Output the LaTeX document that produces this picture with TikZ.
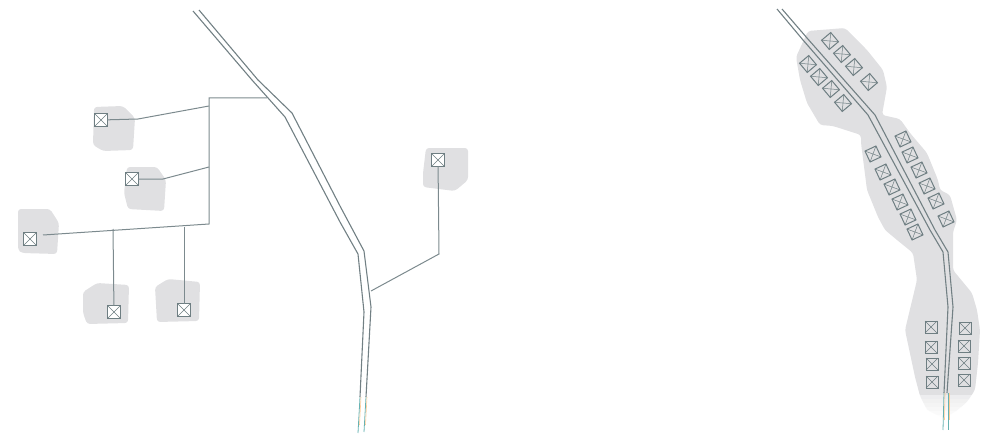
\documentclass[tikz,border=0pt]{standalone}
\usetikzlibrary{calc}
\definecolor{blobc}{HTML}{E0E0E2}
\definecolor{linec}{HTML}{7C8A8E}
\definecolor{boxc}{HTML}{6E7E82}
\definecolor{roadc}{HTML}{728084}
\tikzset{
  blob/.style={fill=blobc,draw=none,rounded corners=3pt},
  wire/.style={draw=linec,line width=1pt},
  road/.style={draw=roadc,line width=1.1pt,line join=round},
  tealr/.style={draw=teal!60!white,line width=.8pt},
  oranger/.style={draw=orange!40!white,line width=.6pt},
  xbox/.style={rectangle,draw=boxc,fill=white,line width=1pt,minimum size=12.5pt,inner sep=0pt,outer sep=0pt,
    append after command={
      (\tikzlastnode.north west) edge[draw=boxc,line width=.5pt] (\tikzlastnode.south east)
      (\tikzlastnode.north east) edge[draw=boxc,line width=.5pt] (\tikzlastnode.south west)}}
}
\begin{document}
\begin{tikzpicture}[x=1pt,y=-1pt]
\useasboundingbox (0,0) rectangle (989,436);
% blobs left
\fill[blob] (94,107)--(123,106)--(135,118)--(133,150)--(103,151)--(93,145)--cycle;
\fill[blob] (127,167)--(157,167)--(166,180)--(164,211)--(128,209)--(124,193)--cycle;
\fill[blob] (18,209)--(50,209)--(59,223)--(57,254)--(22,253)--(18,250)--cycle;
\fill[blob] (83,292)--(97,283)--(129,285)--(128,323)--(87,324)--(83,313)--cycle;
\fill[blob] (155,287)--(168,279)--(200,282)--(199,321)--(157,322)--cycle;
\fill[blob] (426,148)--(468,148)--(468,180)--(455,191)--(423,187)--(423,173)--cycle;
% blob right
\fill[blob] (808,31)--(845,28)--(867,50)--(883,70)--(887,87)--(882,115)--(900,119)--(910,133)--(927,153)--(938,180)--(940,190)--(950,195)--(957,220)--(953,232)--(953,270)--(972,293)--(977,310)--(980,330)--(978,363)--(975,390)--(967,402)--(955,412)--(943,418)--(927,410)--(920,396)--(915,377)--(905,330)--(917,280)--(913,253)--(897,240)--(885,230)--(878,217)--(867,190)--(861,143)--(861,135)--(833,126)--(820,125)--(807,103)--(800,80)--(796,57)--cycle;
% fade of the lower edge
\foreach \yy/\op in {395/.45,399/.55,403/.65,407/.75,411/.85,415/.95}
  \fill[white,opacity=\op] (895,\yy) rectangle (989,\yy+4);
% roads
\draw[road] (193,11)--(252,80)--(285,117)--(340,222)--(358,254)--(364,312)--(360,397);
\draw[road] (199,10)--(258,80)--(292,113)--(340,206)--(364,251)--(371,307)--(366,397);
\draw[tealr] (360,397)--(358,433);
\draw[oranger] (361,397)--(359.5,425);
\draw[tealr] (366,397)--(364,432);
\draw[oranger] (367,397)--(365.5,425);
\draw[road] (777,9)--(803,40)--(868,115)--(930,230)--(943,252)--(948,307)--(944,393);
\draw[road] (782,9)--(807,38)--(875,115)--(935,230)--(948,252)--(953,307)--(947,393);
\draw[tealr] (944,393)--(943,430);
\draw[oranger] (945,393)--(944.5,420);
\draw[tealr] (948,393)--(948,430);
\draw[oranger] (949,393)--(949,420);
% left boxes
\node[xbox] (a) at (101,120) {};
\node[xbox] (b) at (132,179) {};
\node[xbox] (c) at (30,239) {};
\node[xbox] (d) at (114,312) {};
\node[xbox] (e) at (184,310) {};
\node[xbox] (f) at (438,160) {};
% junctions
\coordinate (top) at (209,98);
\coordinate (rj) at (267,98);
\coordinate (low) at (209,224);
\coordinate (a1) at (138,119);
\coordinate (a2) at (209,106);
\coordinate (b1) at (163,179);
\coordinate (b2) at (209,167);
\coordinate (c1) at (43,235);
\coordinate (d1) at (113,229);
\coordinate (e1) at (184,227);
\coordinate (f1) at (439,254);
\coordinate (f2) at (371,291);
\draw[wire] (rj)--(top)--(low)--(c1);
\draw[wire] (a)--(a1)--(a2);
\draw[wire] (b)--(b1)--(b2);
\draw[wire] (d)--(d1);
\draw[wire] (e)--(e1);
\draw[wire] (f)--(f1)--(f2);
% right boxes
\foreach \n/\p/\q in {r1/830/41,r2/842/54,r3/854/67,r4/869/82,r5/808/64,r6/819/77,r7/831/89,r8/843/103}
  \node[xbox,rotate=40,minimum size=12pt,fill=none] (\n) at (\p,\q) {};
\foreach \n/\p/\q in {s1/903/139,s2/910/155,s3/919/170,s4/927/186,s5/936/201,s6/946/219,s7/873/154,s8/883/172,s9/892/187,s10/900/202,s11/908/217,s12/915/232}
  \node[xbox,rotate=25,minimum size=12pt,fill=none] (\n) at (\p,\q) {};
\foreach \n/\p/\q in {t1/931/327,t2/931/347,t3/932/364,t4/932/382,t5/965/328,t6/964/346,t7/964/363,t8/964/380}
  \node[xbox,minimum size=12pt,fill=none] (\n) at (\p,\q) {};
\end{tikzpicture}
\end{document}
